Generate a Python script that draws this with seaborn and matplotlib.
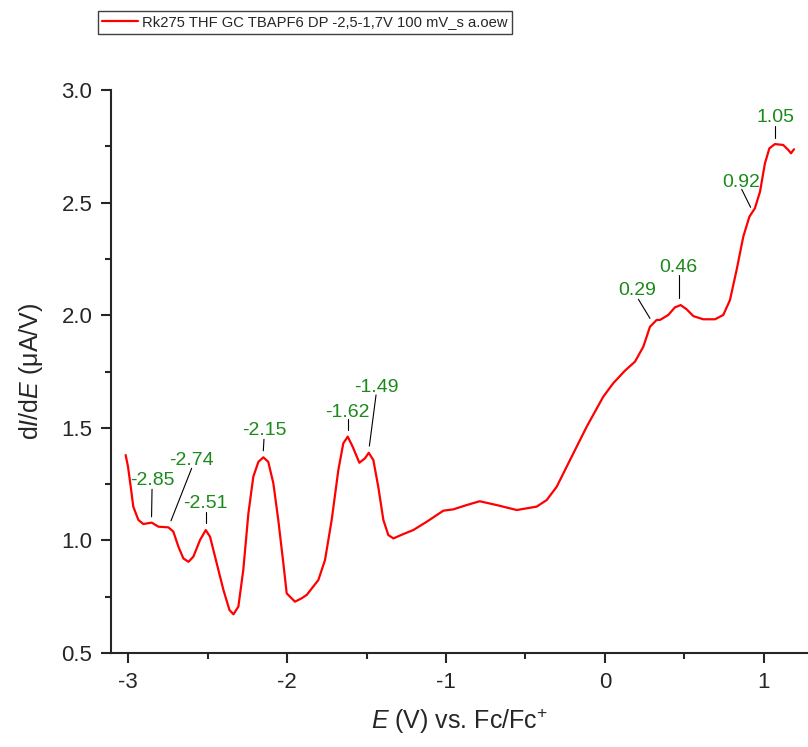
import numpy as np
import pandas as pd
import matplotlib
matplotlib.use("Agg")
import matplotlib.pyplot as plt
from matplotlib.ticker import MultipleLocator
import seaborn as sns

# differential pulse voltammogram
potential = [-3.015, -3.000, -2.983, -2.967, -2.935, -2.904, -2.851, -2.809, -2.746, -2.715,
             -2.683, -2.652, -2.620, -2.589, -2.547, -2.511, -2.484, -2.442, -2.400, -2.362,
             -2.337, -2.306, -2.275, -2.243, -2.212, -2.180, -2.149, -2.118, -2.086, -2.055,
             -2.023, -2.002, -1.950, -1.908, -1.876, -1.803, -1.761, -1.719, -1.677, -1.646,
             -1.618, -1.587, -1.545, -1.509, -1.486, -1.457, -1.426, -1.394, -1.363, -1.331,
             -1.269, -1.206, -1.121, -1.017, -0.954, -0.870, -0.788, -0.681, -0.555, -0.430,
             -0.367, -0.304, -0.220, -0.115, -0.011, 0.052, 0.126, 0.189, 0.241, 0.283,
             0.325, 0.346, 0.398, 0.440, 0.476, 0.514, 0.556, 0.618, 0.692, 0.744,
             0.786, 0.828, 0.870, 0.908, 0.943, 0.975, 1.006, 1.034, 1.069, 1.121,
             1.153, 1.170, 1.189]
dIdE = [1.379, 1.327, 1.238, 1.150, 1.091, 1.073, 1.079, 1.061, 1.058, 1.039,
        0.972, 0.920, 0.905, 0.928, 1.002, 1.046, 1.016, 0.898, 0.780, 0.691,
        0.672, 0.706, 0.869, 1.120, 1.283, 1.349, 1.369, 1.349, 1.254, 1.091,
        0.898, 0.765, 0.728, 0.743, 0.758, 0.824, 0.913, 1.091, 1.313, 1.431,
        1.461, 1.416, 1.345, 1.365, 1.389, 1.357, 1.238, 1.091, 1.024, 1.009,
        1.028, 1.046, 1.083, 1.132, 1.138, 1.157, 1.174, 1.157, 1.135, 1.150,
        1.179, 1.238, 1.357, 1.505, 1.638, 1.698, 1.754, 1.794, 1.860, 1.949,
        1.979, 1.979, 2.001, 2.035, 2.045, 2.026, 1.996, 1.982, 1.982, 2.001,
        2.067, 2.201, 2.349, 2.437, 2.475, 2.548, 2.674, 2.741, 2.760, 2.756,
        2.734, 2.719, 2.737]

series_name = "Rk275 THF GC TBAPF6 DP -2,5-1,7V 100 mV_s a.oew"

# peak labels
peak_labels = ["-2.85", "-2.74", "-2.51", "-2.15", "-1.62", "-1.49", "0.29", "0.46", "0.92", "1.05"]
# label placement (text x, text baseline y) and leader line (x0, y0, x1, y1)
label_pos = [(-2.846, 1.246), (-2.600, 1.335), (-2.516, 1.143), (-2.145, 1.468), (-1.619, 1.549),
             (-1.441, 1.660), (0.205, 2.090), (0.461, 2.193), (0.857, 2.571), (1.074, 2.859)]
leaders = [(-2.849, 1.227, -2.852, 1.105), (-2.600, 1.320, -2.730, 1.087),
           (-2.510, 1.128, -2.510, 1.076), (-2.145, 1.449, -2.149, 1.398),
           (-1.618, 1.538, -1.618, 1.490), (-1.440, 1.646, -1.482, 1.419),
           (0.210, 2.071, 0.283, 1.986), (0.467, 2.179, 0.467, 2.075),
           (0.860, 2.559, 0.916, 2.479), (1.069, 2.840, 1.069, 2.785)]

df = pd.DataFrame({"E": potential, "dIdE": dIdE})

sns.set_style("ticks")
plt.rcParams["font.family"] = ["Liberation Sans", "DejaVu Sans"]
plt.rcParams["axes.unicode_minus"] = False
plt.rcParams["mathtext.fontset"] = "custom"
plt.rcParams["mathtext.rm"] = "Liberation Sans"
plt.rcParams["mathtext.it"] = "Liberation Sans:italic"

fig = plt.figure(figsize=(8.08, 7.47), dpi=100)
ax = fig.add_axes([0.1374, 0.1258, 0.8626, 0.7537])

sns.lineplot(data=df, x="E", y="dIdE", color="red", linewidth=1.6, label=series_name, ax=ax, sort=False)

for txt, (tx, ty), (x0, y0, x1, y1) in zip(peak_labels, label_pos, leaders):
    ax.plot([x0, x1], [y0, y1], color="black", linewidth=0.8)
    ax.text(tx, ty, txt, color="#1a8a1a", fontsize=14, ha="center", va="baseline")

ax.set_xlim(-3.107, 1.277)
ax.set_ylim(0.5, 3.0)
ax.xaxis.set_major_locator(MultipleLocator(1))
ax.xaxis.set_minor_locator(MultipleLocator(0.5))
ax.yaxis.set_major_locator(MultipleLocator(0.5))
ax.yaxis.set_minor_locator(MultipleLocator(0.25))
ax.yaxis.set_major_formatter(matplotlib.ticker.FormatStrFormatter("%.1f"))
ax.tick_params(which="major", direction="out", length=7.5, width=1.5, labelsize=16, pad=6)
ax.tick_params(which="minor", direction="out", length=4, width=1.5)
for s in ["left", "bottom"]:
    ax.spines[s].set_linewidth(1.5)
sns.despine(ax=ax)

ax.set_xlabel(r"$\mathit{E}$ (V) vs. Fc/Fc$^{+}$", fontsize=18, labelpad=10)
ax.set_ylabel(r"d$\mathit{I}$/d$\mathit{E}$ ($\mathrm{\mu}$A/V)", fontsize=18, labelpad=12)

ax.legend_.remove()
leg = fig.legend(loc="upper left", bbox_to_anchor=(0.121, 0.9857), borderaxespad=0,
                 fontsize=10.6, frameon=True, fancybox=False, framealpha=1, edgecolor="#404040",
                 borderpad=0.3, handlelength=2.4, handletextpad=0.3)
leg.get_frame().set_linewidth(1.0)

fig.savefig("out.png", dpi=100)
